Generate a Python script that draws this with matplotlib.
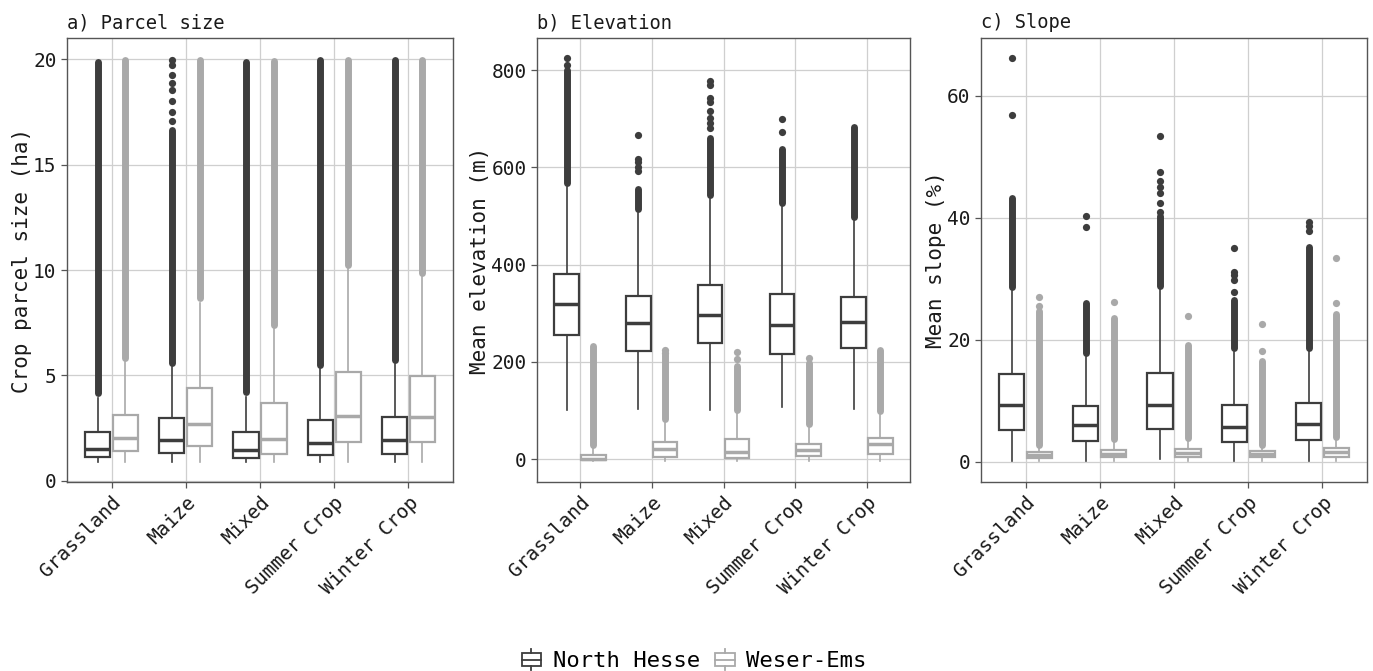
import matplotlib
matplotlib.use("Agg")
import matplotlib.pyplot as plt
from matplotlib.patches import Patch, Rectangle
from matplotlib.lines import Line2D
from matplotlib.legend_handler import HandlerBase

plt.rcParams["font.family"] = ["DejaVu Sans Mono", "DejaVu Sans"]

crops = ["Grassland", "Maize", "Mixed", "Summer Crop", "Winter Crop"]
regions = ["North Hesse", "Weser-Ems"]

# box stats per crop: (whisker low, q1, median, q3, whisker high)
size_nh = [(0.92, 1.13, 1.51, 2.30, 3.95), (0.92, 1.32, 1.93, 2.98, 5.40),
           (0.92, 1.08, 1.46, 2.31, 4.00), (0.92, 1.22, 1.79, 2.88, 5.30),
           (0.92, 1.30, 1.92, 3.05, 5.55)]
size_we = [(0.92, 1.40, 2.04, 3.15, 5.65), (0.92, 1.68, 2.69, 4.43, 8.45),
           (0.92, 1.30, 2.01, 3.70, 7.20), (0.92, 1.87, 3.10, 5.16, 10.05),
           (0.92, 1.84, 3.03, 4.99, 9.65)]
# outliers: dense runs (from, to) and single points
size_nh_run = [(4.15, 19.85), (5.6, 16.65), (4.2, 19.85), (5.5, 19.95), (5.75, 19.95)]
size_nh_pts = [[], [17.05, 17.5, 18.0, 18.55, 18.87, 19.26, 19.74, 19.97], [], [], []]
size_we_run = [(5.85, 19.97), (8.65, 19.97), (7.4, 19.9), (10.25, 19.97), (9.85, 19.97)]
size_we_pts = [[], [], [], [], []]

elev_nh = [(101, 256, 319, 380, 560), (103, 222, 280, 336, 506),
           (101, 239, 297, 358, 535), (108, 217, 275, 339, 519),
           (103, 228, 281, 334, 489)]
elev_we = [(-4, -2, 1, 9, 22), (-3, 5, 20, 35, 75), (-3, 2, 14, 41, 94),
           (-3, 6, 18, 32, 64), (-3, 10, 31, 44, 91)]
elev_nh_run = [(568, 800), (514, 555), (543, 660), (527, 637), (497, 683)]
elev_nh_pts = [[811, 825], [593, 601, 610, 617, 666],
               [681, 691, 701, 715, 735, 742, 770, 777], [672, 700], []]
elev_we_run = [(30, 233), (83, 215), (102, 192), (73, 197), (99, 225)]
elev_we_pts = [[], [219, 224], [206, 221], [208], []]

slope_nh = [(0.1, 5.18, 9.39, 14.47, 28.0), (0.1, 3.49, 6.0, 9.23, 17.2),
            (0.4, 5.41, 9.39, 14.64, 28.3), (0.1, 3.28, 5.67, 9.39, 18.0),
            (0.1, 3.66, 6.23, 9.67, 18.1)]
slope_we = [(0.1, 0.65, 1.08, 1.57, 2.3), (0.1, 0.82, 1.36, 1.90, 3.4),
            (0.1, 0.82, 1.41, 2.13, 3.6), (0.1, 0.82, 1.31, 1.74, 2.5),
            (0.1, 0.82, 1.57, 2.23, 3.7)]
slope_nh_run = [(28.6, 43.3), (17.8, 26.0), (28.8, 40.3), (18.6, 26.6), (18.7, 35.3)]
slope_nh_pts = [[56.8, 66.2], [38.5, 40.3], [41.0, 42.5, 44.1, 45.0, 46.0, 47.5, 53.4],
                [27.9, 29.9, 30.6, 31.2, 35.1], [37.8, 38.6, 39.4]]
slope_we_run = [(2.7, 24.7), (3.7, 23.6), (3.9, 19.2), (2.8, 16.6), (4.0, 24.3)]
slope_we_pts = [[25.6, 27.1], [26.2], [23.9], [18.1, 22.6], [26.1, 33.4]]

panels = [
    ("a) Parcel size", "Crop parcel size (ha)", (-0.05, 21.0), [0, 5, 10, 15, 20],
     [(size_nh, size_nh_run, size_nh_pts), (size_we, size_we_run, size_we_pts)]),
    ("b) Elevation", "Mean elevation (m)", (-47, 866), [0, 200, 400, 600, 800],
     [(elev_nh, elev_nh_run, elev_nh_pts), (elev_we, elev_we_run, elev_we_pts)]),
    ("c) Slope", "Mean slope (%)", (-3.3, 69.5), [0, 20, 40, 60],
     [(slope_nh, slope_nh_run, slope_nh_pts), (slope_we, slope_we_run, slope_we_pts)]),
]

colors = ["#3d3d3d", "#a9a9a9"]
offsets = [-0.1875, 0.1875]

W, H = 1373, 671
fig = plt.figure(figsize=(W / 100, H / 100), dpi=100)
lefts = [67, 537, 981]
widths = [386, 373, 386]

for k, (title, ylabel, ylim, yticks, groups) in enumerate(panels):
    ax = fig.add_axes([lefts[k] / W, 1 - 482 / H, widths[k] / W, 444 / H])
    for g, (boxes, runs, pts) in enumerate(groups):
        c = colors[g]
        stats = []
        pos = []
        for i, (lo, q1, med, q3, hi) in enumerate(boxes):
            stats.append(dict(whislo=lo, q1=q1, med=med, q3=q3, whishi=hi, fliers=[]))
            pos.append(i + offsets[g])
        ax.bxp(stats, positions=pos, widths=0.34, showfliers=False, showcaps=False,
               patch_artist=True,
               boxprops=dict(facecolor="white", edgecolor=c, linewidth=1.6),
               medianprops=dict(color=c, linewidth=2.5),
               whiskerprops=dict(color=c, linewidth=1.2), zorder=3)
        for i, (r0, r1) in enumerate(runs):
            x = i + offsets[g]
            ax.plot([x, x], [r0, r1], color=c, lw=5, solid_capstyle="round", zorder=4)
            if pts[i]:
                ax.plot([x] * len(pts[i]), pts[i], "o", color=c, ms=5.2, mew=0, zorder=4)

    ax.set_xlim(-0.6, 4.6)
    ax.set_ylim(*ylim)
    ax.set_yticks(yticks)
    ax.set_xticks(range(len(crops)))
    ax.set_xticklabels(crops, rotation=45, ha="right", rotation_mode="anchor")
    ax.grid(True, color="#cfcfcf", lw=0.9)
    ax.set_axisbelow(True)
    for s in ax.spines.values():
        s.set_color("#555555")
        s.set_linewidth(1.0)
    ax.tick_params(axis="both", labelsize=14, colors="#555555", labelcolor="#1a1a1a",
                   length=4, width=0.9)
    ax.tick_params(axis="x", pad=4)
    ax.set_ylabel(ylabel, fontsize=15, color="#1a1a1a", labelpad=1)
    ax.set_title(title, loc="left", fontsize=13.5, pad=7, color="#1a1a1a")


class BoxGlyph(HandlerBase):
    def create_artists(self, legend, orig_handle, xdescent, ydescent, width, height,
                       fontsize, trans):
        c = orig_handle.get_edgecolor()
        x0, y0 = -xdescent, -ydescent
        box = Rectangle((x0 + 0.1 * width, y0 + 0.2 * height), 0.8 * width, 0.6 * height,
                        facecolor="white", edgecolor=c, lw=1.3, transform=trans)
        med = Line2D([x0 + 0.1 * width, x0 + 0.9 * width], [y0 + 0.5 * height] * 2,
                     color=c, lw=1.3, transform=trans)
        wt = Line2D([x0 + 0.5 * width] * 2, [y0 + 0.8 * height, y0 + height],
                    color=c, lw=1.3, transform=trans)
        wb = Line2D([x0 + 0.5 * width] * 2, [y0, y0 + 0.2 * height],
                    color=c, lw=1.3, transform=trans)
        return [box, med, wt, wb]


handles = [Patch(facecolor="white", edgecolor=c) for c in colors]
fig.legend(handles, regions, loc="center", bbox_to_anchor=(693 / W, 1 - 660 / H),
           ncol=2, frameon=False, fontsize=16, handlelength=1.1, handleheight=1.1,
           handletextpad=0.4, columnspacing=0.6, handler_map={Patch: BoxGlyph()})

fig.savefig("out.png", dpi=100)
